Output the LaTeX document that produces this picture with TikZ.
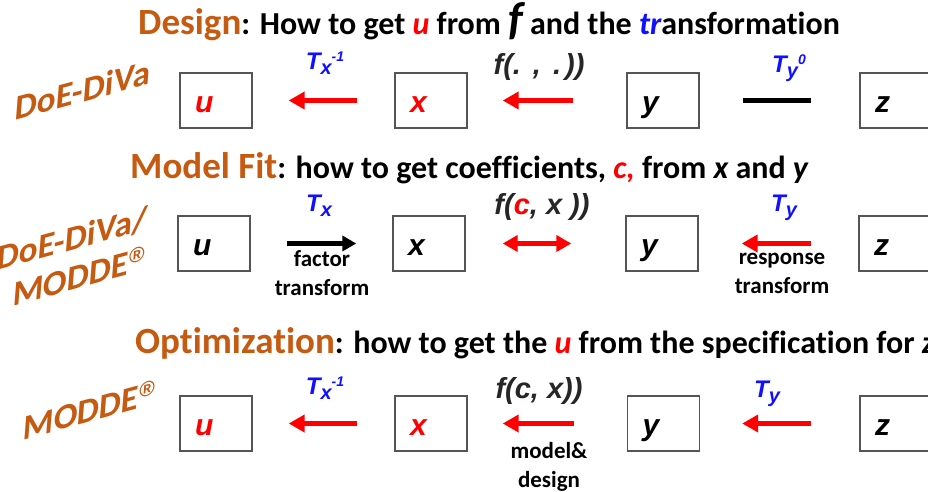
\documentclass[tikz,border=0pt]{standalone}
\usepackage{fontspec}
\setmainfont{Carlito}[Ligatures={NoCommon}]
\newfontfamily\arialf{Liberation Sans}
\usetikzlibrary{arrows.meta}
\definecolor{orng}{HTML}{C55A11}
\definecolor{myred}{HTML}{FF0000}
\definecolor{myblue}{HTML}{1010FF}
\definecolor{boxgray}{HTML}{555555}
\newcommand\myfs[1]{\fontsize{#1}{#1}\selectfont}
\newcommand\Tsub[2]{T\raisebox{-5pt}{\myfs{20}#1}\raisebox{8pt}{\myfs{14}#2}}
\newcommand\regd{\raisebox{10pt}{\arialf\bfseries\myfs{21}®}}
\begin{document}
\begin{tikzpicture}[x=1pt,y=-1pt,
  box/.style={draw=boxgray, line width=1.4pt, minimum width=72pt, minimum height=55pt,
    inner xsep=15pt, inner ysep=0pt, text width=42pt, align=left, text height=24pt, text depth=0pt,
    font=\arialf\bfseries\itshape\myfs{30}},
  redarr/.style={draw=myred, line width=5.5pt, -{Triangle[length=16pt,width=17pt]}},
  dblarr/.style={draw=myred, line width=5.5pt, {Triangle[length=15pt,width=16pt]}-{Triangle[length=15pt,width=16pt]}},
  blkarr/.style={draw=black, line width=4.5pt, -{Triangle[length=14pt,width=15pt]}},
  blkline/.style={draw=black, line width=5pt},
  lab/.style={font=\arialf\bfseries\itshape\myfs{24}, inner sep=0pt},
  flab/.style={font=\arialf\bfseries\itshape\myfs{29}, inner sep=0pt, text=black!85},
  blab/.style={font=\bfseries\fontsize{23}{29}\selectfont, inner sep=0pt, align=center},
  ttl/.style={anchor=base west, inner sep=0pt, font=\bfseries\myfs{32}},
  side/.style={text=orng, font=\bfseries\fontsize{35}{40}\selectfont, yslant=0.27, xslant=0.08, inner sep=0pt}
]
\useasboundingbox (0,0) rectangle (928,492);

% titles
\node[ttl] (t1) at (138,35) {{\color{orng}\myfs{37}Design}: How to get {\color{myred}\itshape u} from {\itshape\myfs{46}f} and the {\color{myblue}\itshape tr}ansformation};
\node[ttl] (t2) at (130,178) {{\color{orng}\myfs{37}Model Fit}: how to get coefficients, {\color{myred}\itshape c,} from {\itshape x} and {\itshape y}};
\node[ttl] (t3) at (135,353) {{\color{orng}\myfs{37}Optimization}: how to get the {\color{myred}\itshape u} from the specification for {\itshape z}};

% side labels
\node[side] (s1) at (83,90) {DoE-DiVa};
\node[side, align=right, anchor=east] (s2) at (146,238) {DoE-DiVa/\\MODDE\regd};
\node[side] (s3) at (89,410) {MODDE\regd};

% row 1
\node[box,text=myred] (u1) at (216,100.5) {u};
\node[box,text=myred] (x1) at (431,100.5) {x};
\node[box] (y1) at (663,100.5) {y};
\node[box] (z1) at (896,100.5) {z};
\draw[redarr, shorten <=37pt, shorten >=36pt] (x1) -- (u1);
\draw[redarr, shorten <=53pt, shorten >=35pt] (y1) -- (x1);
\draw[blkline, shorten <=43pt, shorten >=48pt] (y1) -- (z1);
\node[lab,text=myblue] (l1a) at (325,63) {\Tsub{x}{-1}};
\node[flab] (l1b) at (539,67) {f(.\hspace{12pt},\hspace{12pt}.\hspace{4pt}))};
\node[lab,text=myblue] (l1c) at (789,68) {\Tsub{y}{0}};

% row 2
\node[box] (u2) at (214,243.5) {u};
\node[box] (x2) at (429,243.5) {x};
\node[box] (y2) at (662,243.5) {y};
\node[box] (z2) at (895,243.5) {z};
\draw[blkarr, shorten <=36pt, shorten >=36pt] (u2) -- (x2);
\draw[dblarr, shorten <=37pt, shorten >=54pt] (x2) -- (y2);
\draw[redarr, shorten <=47pt, shorten >=43pt] (z2) -- (y2);
\node[lab,text=myblue] (l2a) at (319,206) {T\raisebox{-5pt}{\myfs{20}x}};
\node[flab] (l2b) at (542,207) {f({\color{myred}c}, x ))};
\node[lab,text=myblue] (l2c) at (784,208) {T\raisebox{-5pt}{\myfs{20}y}};
\node[blab] (l2d) at (322,273) {factor\\transform};
\node[blab] (l2e) at (782,273) {response\\transform};

% row 3
\node[box,text=myred] (u3) at (216,423.5) {u};
\node[box,text=myred] (x3) at (431,423.5) {x};
\node[box] (y3) at (663.5,423.5) {y};
\node[box] (z3) at (896,423.5) {z};
\draw[redarr, shorten <=37pt, shorten >=36pt] (x3) -- (u3);
\draw[redarr, shorten <=53pt, shorten >=35pt] (y3) -- (x3);
\draw[redarr, shorten <=48pt, shorten >=42pt] (z3) -- (y3);
\node[lab,text=myblue] (l3a) at (325,388) {\Tsub{x}{-1}};
\node[flab] (l3b) at (539,391) {f(c, x))};
\node[lab,text=myblue] (l3c) at (767,394) {T\raisebox{-5pt}{\myfs{20}y}};
\node[blab] (l3d) at (549,467) {model\&\\design};
\end{tikzpicture}
\end{document}
